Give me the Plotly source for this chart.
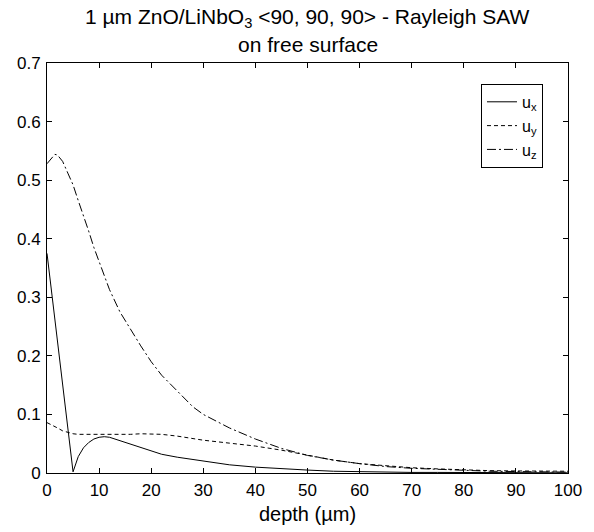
import plotly.graph_objects as go

depth = [0, 1, 1.5, 2, 3, 4, 5, 6, 7, 8, 9, 10, 11, 12, 14, 16, 18, 20, 22, 25,
         28, 30, 35, 40, 45, 50, 55, 60, 65, 70, 75, 80, 85, 90, 95, 100]

u_x = [0.375, 0.30, 0.265, 0.228, 0.153, 0.077, 0.002, 0.028, 0.043, 0.052, 0.058,
       0.061, 0.062, 0.061, 0.055, 0.049, 0.043, 0.037, 0.032, 0.027, 0.023, 0.020,
       0.014, 0.010, 0.007, 0.005, 0.003, 0.002, 0.0015, 0.001, 0.001, 0.0008,
       0.0006, 0.0005, 0.0004, 0.0003]

u_y = [0.086, 0.082, 0.080, 0.077, 0.072, 0.069, 0.067, 0.066, 0.066, 0.065, 0.065,
       0.065, 0.065, 0.065, 0.066, 0.066, 0.067, 0.067, 0.066, 0.063, 0.059, 0.056,
       0.051, 0.046, 0.039, 0.030, 0.022, 0.016, 0.012, 0.009, 0.007, 0.005,
       0.004, 0.0035, 0.003, 0.003]

u_z = [0.528, 0.540, 0.544, 0.543, 0.532, 0.512, 0.492, 0.465, 0.440, 0.413, 0.385,
       0.360, 0.336, 0.313, 0.275, 0.245, 0.217, 0.190, 0.167, 0.140, 0.113, 0.100,
       0.077, 0.058, 0.042, 0.030, 0.022, 0.016, 0.011, 0.008, 0.006, 0.004,
       0.003, 0.0025, 0.002, 0.0015]

series = [
    ("u<sub>x</sub>", u_x, "solid"),
    ("u<sub>y</sub>", u_y, "4px,3px"),
    ("u<sub>z</sub>", u_z, "9px,3px,2px,3px"),
]

title_lines = ["1 \u00b5m ZnO/LiNbO<sub>3</sub> &lt;90, 90, 90&gt; - Rayleigh SAW",
               "on free surface"]

x_ticks = [0, 10, 20, 30, 40, 50, 60, 70, 80, 90, 100]
y_ticks = [0, 0.1, 0.2, 0.3, 0.4, 0.5, 0.6, 0.7]
y_tick_text = ["0", "0.1", "0.2", "0.3", "0.4", "0.5", "0.6", "0.7"]

fig = go.Figure()
for name, vals, dash in series:
    fig.add_trace(go.Scatter(x=depth, y=vals, mode="lines", name=name,
                             line=dict(color="black", width=1, dash=dash)))

font = "Liberation Sans, Arial, sans-serif"
axis_common = dict(showline=True, linecolor="black", linewidth=1, mirror="ticks",
                   ticks="inside", ticklen=5, tickcolor="black", tickwidth=1,
                   showgrid=False, zeroline=False,
                   tickfont=dict(family=font, size=17, color="black"))

fig.update_layout(
    width=594, height=532,
    margin=dict(l=47, r=26, t=63, b=59),
    paper_bgcolor="white", plot_bgcolor="white",
    font=dict(family=font, size=17, color="black"),
    xaxis=dict(range=[0, 100], tickvals=x_ticks, ticklabelstandoff=2,
               title=dict(text="depth (\u00b5m)", font=dict(family=font, size=20), standoff=7),
               **axis_common),
    yaxis=dict(range=[0, 0.7], tickvals=y_ticks, ticktext=y_tick_text,
               ticklabelstandoff=2, **axis_common),
    legend=dict(x=0.952, y=0.949, xanchor="right", yanchor="top",
                bordercolor="black", borderwidth=1, bgcolor="white",
                itemwidth=30, tracegroupgap=0,
                font=dict(family=font, size=16, color="black")),
    showlegend=True,
)

title_y = [1.0 + 45 / 410, 1.0 + 18 / 410]
for line, ty in zip(title_lines, title_y):
    fig.add_annotation(text=line, xref="paper", yref="paper",
                       x=0.5, y=ty, xanchor="center", yanchor="middle",
                       showarrow=False, align="center",
                       font=dict(family=font, size=21, color="black"))

fig.write_html("out.html")
